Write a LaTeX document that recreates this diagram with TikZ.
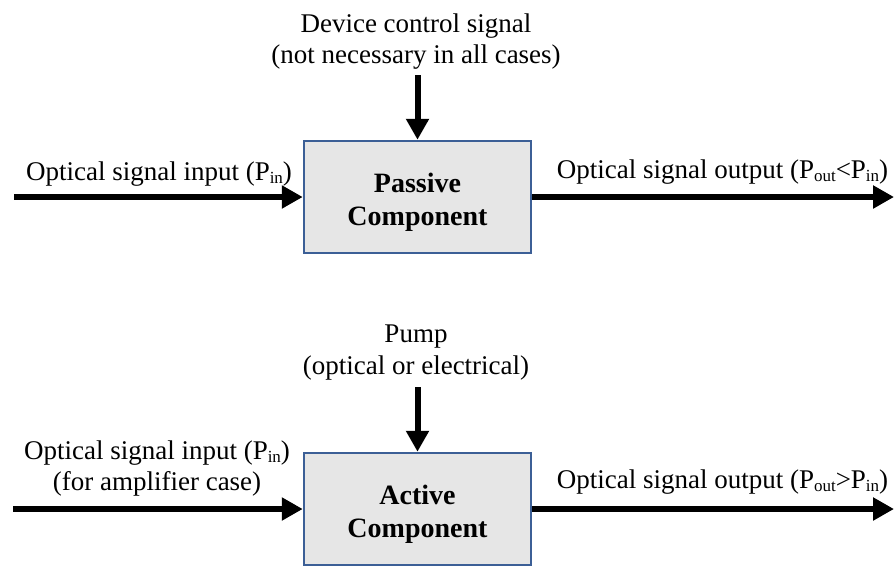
\documentclass[tikz,border=0pt]{standalone}
\usepackage{fontspec}
\setmainfont{Liberation Serif}
\usetikzlibrary{arrows.meta}
\definecolor{boxblue}{RGB}{60,95,150}
\definecolor{boxgray}{RGB}{230,230,230}
\newcommand\lowsub[1]{\raisebox{-0.12em}{\fontsize{17}{17}\selectfont #1}}
\newcommand\boxtext[2]{\raisebox{-12pt}[0pt][0pt]{\begin{tabular}{@{}c@{}}#1\\#2\end{tabular}}}
\begin{document}
\begin{tikzpicture}[x=1pt,y=-1pt,
  comp/.style={draw=boxblue, line width=2.5pt, fill=boxgray,
    minimum width=227pt, minimum height=112pt, inner sep=0pt,
    font=\fontsize{28}{33}\selectfont\bfseries, align=center},
  lbl/.style={font=\fontsize{27}{31.5}\selectfont, align=center, inner sep=0pt, anchor=base},
  bigarrow/.style={line width=6pt, -{Triangle[width=22pt,length=21pt]}}]
\useasboundingbox (0,0) rectangle (894,566);

% top row
\node[comp] (box1) at (417.5,197) {\boxtext{Passive}{Component}};
\node[lbl] (ctl) at (416,63.5) {Device control signal\\(not necessary in all cases)};
\node[lbl] (in1) at (159,180) {Optical signal input (P\lowsub{in})};
\node[lbl] (out1) at (722.5,178) {Optical signal output (P\lowsub{out}<P\lowsub{in})};
\coordinate (in1s) at (14,197);
\coordinate (out1e) at (894,197);
\coordinate (ctls) at (417.5,75);
\draw[bigarrow] (in1s) -- (box1.west);
\draw[bigarrow] (box1.east) -- (out1e);
\draw[bigarrow] (ctls) -- (box1.north);

% bottom row
\node[comp] (box2) at (417.5,509) {\boxtext{Active}{Component}};
\node[lbl] (pump) at (416,374) {Pump\\(optical or electrical)};
\node[lbl] (in2) at (157,490.5) {Optical signal input (P\lowsub{in})\\(for amplifier case)};
\node[lbl] (out2) at (722.5,488) {Optical signal output (P\lowsub{out}>P\lowsub{in})};
\coordinate (in2s) at (13,509);
\coordinate (out2e) at (894,509);
\coordinate (pumps) at (417.5,387);
\draw[bigarrow] (in2s) -- (box2.west);
\draw[bigarrow] (box2.east) -- (out2e);
\draw[bigarrow] (pumps) -- (box2.north);
\end{tikzpicture}
\end{document}
